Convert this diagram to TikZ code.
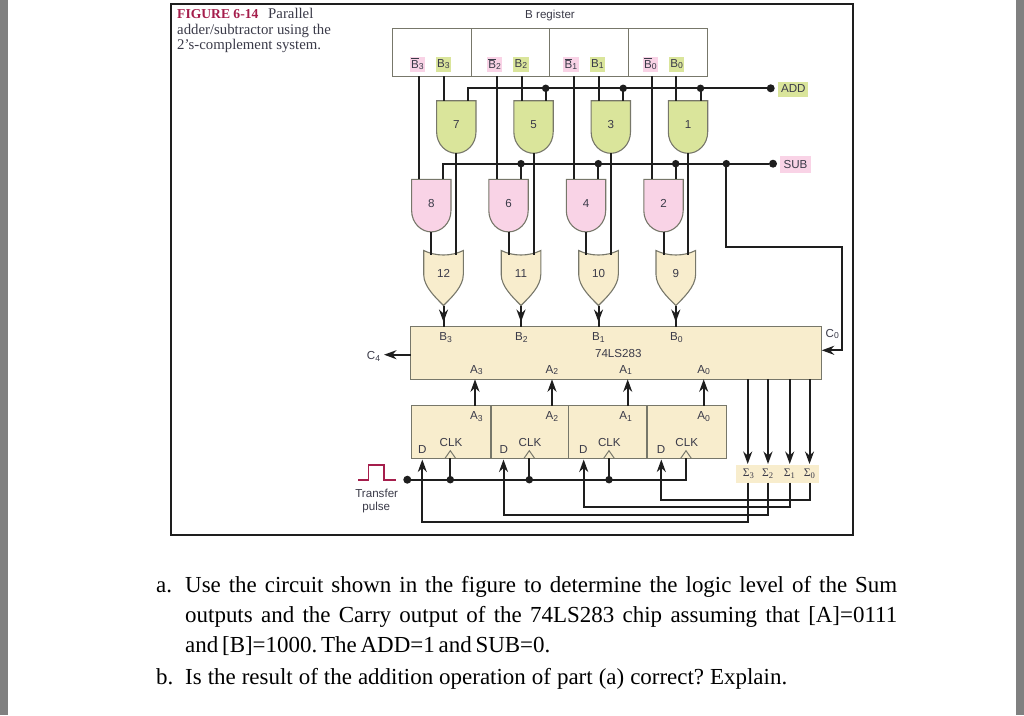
\documentclass[tikz,border=0pt]{standalone}
\usepackage{fontspec}
\setmainfont{Liberation Serif}
\setsansfont{Liberation Sans}
\usetikzlibrary{arrows.meta,decorations.markings}
\definecolor{ink}{HTML}{1E1E1E}
\definecolor{txt}{HTML}{3A3A48}
\definecolor{ggreen}{HTML}{DAE59B}
\definecolor{gpink}{HTML}{F9D3E6}
\definecolor{gcream}{HTML}{F8EDCD}
\definecolor{gedge}{HTML}{77776A}
\definecolor{crim}{HTML}{A51E4C}
\definecolor{sidegray}{HTML}{808080}
\newcommand\sfs{\sffamily\fontsize{11.6}{13}\selectfont}
\newcommand\subs[2]{#1\lower1.8pt\hbox{\fontsize{8.6}{9}\selectfont #2}}
\newcommand\barb[1]{$\overline{\hbox{\sfs B}}$\lower1.8pt\hbox{\fontsize{8.6}{9}\selectfont #1}}
\tikzset{
  wire/.style={draw=ink,line width=2pt},
  arr/.style={wire,-{Stealth[length=12.5pt,width=9pt]}},
  midarr/.style={wire,postaction={decorate},decoration={markings,mark=at position #1 with {\arrow{Stealth[length=12.5pt,width=9pt]}}}},
  gateshape/.style={draw=gedge,line width=1.1pt},
  lab/.style={font=\sfs,text=txt,inner sep=0pt},
  tag/.style={font=\sfs,text=txt,inner sep=1.3pt,minimum height=15pt},
  dot/.style={circle,fill=ink,inner sep=0pt,minimum size=7.5pt},
  bigdot/.style={circle,fill=ink,inner sep=0pt,minimum size=8pt},
  regbox/.style={draw=gedge,line width=1.2pt,inner sep=0pt},
  para/.style={font=\fontsize{22.95}{26}\selectfont\frenchspacing,text=black,inner sep=0pt,anchor=base west},
  capt/.style={font=\fontsize{14.8}{16}\selectfont,text=txt,inner sep=0pt,anchor=base west},
}
% name, centre x, top y, fill, label
\newcommand\andgate[5]{%
  \path[gateshape,fill=#4] (#2-19.7,#3) -- (#2+19.7,#3) -- (#2+19.7,#3+31)
    .. controls (#2+19.7,#3+44) and (#2+10,#3+52.6) .. (#2,#3+52.6)
    .. controls (#2-10,#3+52.6) and (#2-19.7,#3+44) .. (#2-19.7,#3+31) -- cycle;
  \node[lab] (#1) at (#2,#3+24) {#5};
  \coordinate (#1l) at (#2-12,#3);
  \coordinate (#1r) at (#2+12,#3);
  \coordinate (#1o) at (#2,#3+52.6);
}
\newcommand\orgate[4]{%
  \path[gateshape,fill=gcream] (#2-19.8,#3) .. controls (#2-8,#3+6) and (#2+8,#3+6) .. (#2+19.8,#3)
    -- (#2+19.8,#3+24) .. controls (#2+19.8,#3+36) and (#2+8,#3+47) .. (#2,#3+55)
    .. controls (#2-8,#3+47) and (#2-19.8,#3+36) .. (#2-19.8,#3+24) -- cycle;
  \node[lab] (#1) at (#2,#3+23) {#4};
  \coordinate (#1l) at (#2-12,#3+4);
  \coordinate (#1r) at (#2+12,#3+4);
  \coordinate (#1o) at (#2,#3+55);
}
\begin{document}
\begin{tikzpicture}[x=1pt,y=-1pt]
\useasboundingbox (0,0) rectangle (1024,715);
\fill[sidegray] (0,0) rectangle (8,715);
\fill[sidegray] (1016,0) rectangle (1024,715);
\draw[draw=ink,line width=2pt] (171,4) rectangle (853,535);
% caption
\node[capt,font=\fontsize{13.6}{16}\selectfont] (c1) at (177,18.5) {\textbf{\textcolor{crim}{FIGURE 6-14}}};
\node[capt] (c1b) at (268,18.5) {Parallel};
\node[capt] (c2) at (177,34.5) {adder/subtractor using the};
\node[capt] (c3) at (177,49.3) {2’s-complement system.};
% B register
\node[lab] (breg) at (550,15.5) {B register};
\draw[regbox] (392.3,28.3) rectangle (707.7,76.3);
\draw[regbox] (471.7,28.3) -- (471.7,76.3);
\draw[regbox] (549.7,28.3) -- (549.7,76.3);
\draw[regbox] (628.3,28.3) -- (628.3,76.3);
\node[tag,fill=gpink] (nb3) at (417.3,64) {\barb{3}};
\node[tag,fill=ggreen] (tb3) at (443.3,64) {\subs{B}{3}};
\node[tag,fill=gpink] (nb2) at (494.7,64) {\barb{2}};
\node[tag,fill=ggreen] (tb2) at (521,64) {\subs{B}{2}};
\node[tag,fill=gpink] (nb1) at (571,64) {\barb{1}};
\node[tag,fill=ggreen] (tb1) at (597.3,64) {\subs{B}{1}};
\node[tag,fill=gpink] (nb0) at (650.3,64) {\barb{0}};
\node[tag,fill=ggreen] (tb0) at (676.7,64) {\subs{B}{0}};
% gates
\andgate{g7}{456.3}{100.7}{ggreen}{7}
\andgate{g5}{533.5}{100.7}{ggreen}{5}
\andgate{g3}{610.8}{100.7}{ggreen}{3}
\andgate{g1}{688}{100.7}{ggreen}{1}
\andgate{g8}{431.3}{179.3}{gpink}{8}
\andgate{g6}{508.5}{179.3}{gpink}{6}
\andgate{g4}{586}{179.3}{gpink}{4}
\andgate{g2}{663.5}{179.3}{gpink}{2}
\orgate{g12}{443.5}{250.5}{12}
\orgate{g11}{521}{250.5}{11}
\orgate{g10}{598.5}{250.5}{10}
\orgate{g9}{675.8}{250.5}{9}
% register outputs
\coordinate (r3a) at (419.3,76.3); \coordinate (r3b) at (444.3,76.3);
\coordinate (r2a) at (496.5,76.3); \coordinate (r2b) at (521.5,76.3);
\coordinate (r1a) at (574,76.3); \coordinate (r1b) at (598.8,76.3);
\coordinate (r0a) at (651.5,76.3); \coordinate (r0b) at (676,76.3);
\draw[wire] (r3a) -- (r3a|-g8l); \draw[wire] (r3b) -- (r3b|-g7l);
\draw[wire] (r2a) -- (r2a|-g6l); \draw[wire] (r2b) -- (r2b|-g5l);
\draw[wire] (r1a) -- (r1a|-g4l); \draw[wire] (r1b) -- (r1b|-g3l);
\draw[wire] (r0a) -- (r0a|-g2l); \draw[wire] (r0b) -- (r0b|-g1l);
% ADD
\node[tag,fill=ggreen,minimum width=30pt,minimum height=15pt,inner sep=0pt] (add) at (793.3,89) {ADD};
\node[bigdot] (addin) at (770.7,88.3) {};
\node[dot] (a5) at (545.7,88.3) {};
\node[dot] (a3) at (623.2,88.3) {};
\node[dot] (a1) at (700.5,88.3) {};
\draw[wire] (g7r) |- (addin);
\draw[wire] (a5.center) -- (a5|-g5r); \draw[wire] (a3.center) -- (a3|-g3r); \draw[wire] (a1.center) -- (a1|-g1r);
% SUB
\node[tag,fill=gpink,minimum width=31pt,minimum height=16.7pt,inner sep=0pt] (sub) at (795.5,164.3) {SUB};
\node[bigdot] (subin) at (773,163.7) {};
\node[dot] (s6) at (521,163.7) {};
\node[dot] (s4) at (598.3,163.7) {};
\node[dot] (s2) at (675.7,163.7) {};
\node[dot] (s0) at (726.3,163.7) {};
\draw[wire] (g8r) |- (subin);
\draw[wire] (s6.center) -- (s6|-g6r); \draw[wire] (s4.center) -- (s4|-g4r); \draw[wire] (s2.center) -- (s2|-g2r);
% green to OR, pink to OR
\draw[wire] (g7o) -- (g7o|-g12r); \draw[wire] (g5o) -- (g5o|-g11r); \draw[wire] (g3o) -- (g3o|-g10r); \draw[wire] (g1o) -- (g1o|-g9r);
\draw[wire] (g8o) -- (g8o|-g12l); \draw[wire] (g6o) -- (g6o|-g11l); \draw[wire] (g4o) -- (g4o|-g10l); \draw[wire] (g2o) -- (g2o|-g9l);
% adder
\draw[draw=gedge,fill=gcream,line width=1.2pt] (410.7,326.7) rectangle (821.7,379.3);
\coordinate (ab3) at (443.5,326.7); \coordinate (ab2) at (521,326.7); \coordinate (ab1) at (598.5,326.7); \coordinate (ab0) at (675.8,326.7);
\draw[midarr=0.78] (g12o) -- (ab3);
\draw[midarr=0.78] (g11o) -- (ab2);
\draw[midarr=0.78] (g10o) -- (ab1);
\draw[midarr=0.78] (g9o) -- (ab0);
\node[lab] (lb3) at (445.7,337.7) {\subs{B}{3}};
\node[lab] (lb2) at (521.3,337.7) {\subs{B}{2}};
\node[lab] (lb1) at (598.3,337.7) {\subs{B}{1}};
\node[lab] (lb0) at (676.3,337.7) {\subs{B}{0}};
\node[lab] (chip) at (618.3,353.3) {74LS283};
\node[lab] (la3) at (476.3,370) {\subs{A}{3}};
\node[lab] (la2) at (552,370) {\subs{A}{2}};
\node[lab] (la1) at (625.7,370) {\subs{A}{1}};
\node[lab] (la0) at (703.7,370) {\subs{A}{0}};
\node[lab] (c0) at (832.3,334) {\subs{C}{0}};
\node[lab] (c4) at (373.5,356.5) {\subs{C}{4}};
\coordinate (cin) at (821.7,350.3);
\coordinate (cout) at (410.7,354.7);
\coordinate (cend) at (384,354.7);
\draw[arr] (cout) -- (cend);
\draw[arr] (s0.center) |- (842,246.7) |- (cin);
% A register
\draw[draw=gedge,fill=gcream,line width=1.2pt] (411.3,405.7) rectangle (726.7,458.3);
\draw[draw=gedge,line width=1.2pt] (491,405.7) -- (491,458.3);
\draw[draw=gedge,line width=1.2pt] (568.7,405.7) -- (568.7,458.3);
\draw[draw=gedge,line width=1.2pt] (647,405.7) -- (647,458.3);
\coordinate (q3) at (475,405.7); \coordinate (q2) at (552,405.7); \coordinate (q1) at (627.7,405.7); \coordinate (q0) at (703.7,405.7);
\coordinate (i3) at (475,379.3); \coordinate (i2) at (552,379.3); \coordinate (i1) at (627.7,379.3); \coordinate (i0) at (703.7,379.3);
\draw[arr] (q3) -- (i3); \draw[arr] (q2) -- (i2); \draw[arr] (q1) -- (i1); \draw[arr] (q0) -- (i0);
\node[lab] (qa3) at (476.3,416.7) {\subs{A}{3}};
\node[lab] (qa2) at (552,416.7) {\subs{A}{2}};
\node[lab] (qa1) at (625.7,416.7) {\subs{A}{1}};
\node[lab] (qa0) at (703.7,416.7) {\subs{A}{0}};
\node[lab] (k3) at (451,442.7) {CLK};
\node[lab] (k2) at (530,442.7) {CLK};
\node[lab] (k1) at (609.3,442.7) {CLK};
\node[lab] (k0) at (686.7,442.7) {CLK};
\node[lab] (d3) at (422.3,450) {D};
\node[lab] (d2) at (503.7,450) {D};
\node[lab] (d1) at (583.3,450) {D};
\node[lab] (d0) at (661,450) {D};
% clock triangles
\foreach \x/\n in {450.3/3,529.3/2,609/1,686/0}{
  \path[draw=gedge,line width=1pt] (\x-5.3,458.3) -- (\x,450.7) -- (\x+5.3,458.3);
  \coordinate (t\n) at (\x,458.3);
}
% clock line
\node[bigdot] (clkin) at (407.3,479.7) {};
\node[dot] (k3d) at (450.3,479.7) {};
\node[dot] (k2d) at (529.3,479.7) {};
\node[dot] (k1d) at (609,479.7) {};
\draw[wire] (clkin.center) -| (t0);
\draw[wire] (k3d.center) -- (t3); \draw[wire] (k2d.center) -- (t2); \draw[wire] (k1d.center) -- (t1);
% pulse
\draw[draw=crim,line width=1.6pt] (358,479.7) -- (368.3,479.7) -- (368.3,465) -- (384,465) -- (384,479.7) -- (395.7,479.7);
\node[lab] (tp1) at (376.7,493.3) {Transfer};
\node[lab] (tp2) at (376.3,507.5) {pulse};
% sum outputs
\fill[gcream] (735.7,465.3) rectangle (819,482.7);
\node[inner sep=0pt,text=txt,font=\fontsize{11.6}{12}\selectfont] (s3) at (748.3,474) {\subs{Σ}{3}};
\node[inner sep=0pt,text=txt,font=\fontsize{11.6}{12}\selectfont] (s22) at (767.7,474) {\subs{Σ}{2}};
\node[inner sep=0pt,text=txt,font=\fontsize{11.6}{12}\selectfont] (s1) at (789.3,474) {\subs{Σ}{1}};
\node[inner sep=0pt,text=txt,font=\fontsize{11.6}{12}\selectfont] (s00) at (809.3,474) {\subs{Σ}{0}};
\foreach \x/\n in {747.7/3,768/2,789.7/1,809.5/0}{
  \coordinate (ao\n) at (\x,379.3);
  \coordinate (si\n) at (\x,464);
  \draw[arr] (ao\n) -- (si\n);
  \coordinate (so\n) at (\x,482.7);
}
\coordinate (d3in) at (422.3,459.5); \coordinate (d2in) at (503.5,459.5); \coordinate (d1in) at (583.7,459.5); \coordinate (d0in) at (661.3,459.5);
\draw[arr] (so3) |- (422.3,522.3) -- (d3in);
\draw[arr] (so2) |- (503.5,514.7) -- (d2in);
\draw[arr] (so1) |- (583.7,507) -- (d1in);
\draw[arr] (so0) |- (661.3,499.7) -- (d0in);
% question text
\node[para] (pa) at (156,592) {a.};
\node[para] (l1) at (185,592) {\makebox[712pt][s]{Use the circuit shown in the figure to determine the logic level of the Sum}};
\node[para] (l2) at (185,622.5) {\makebox[712pt][s]{outputs and the Carry output of the 74LS283 chip assuming that [A]=0111}};
\node[para] (l3) at (185,652.5) {\makebox[364pt][s]{and [B]=1000. The ADD=1 and SUB=0.}};
\node[para] (pb) at (156,684) {b.};
\node[para] (l4) at (185,684) {\makebox[602pt][s]{Is the result of the addition operation of part (a) correct? Explain.}};
\end{tikzpicture}
\end{document}
